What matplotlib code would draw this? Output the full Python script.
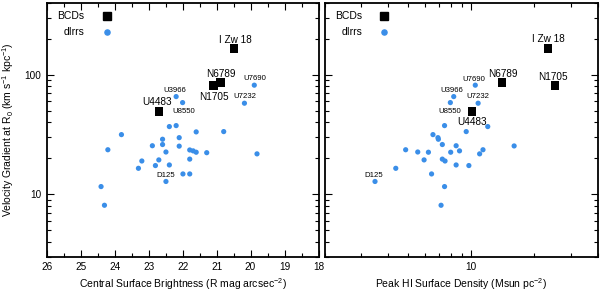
import matplotlib
matplotlib.use("Agg")
import matplotlib.pyplot as plt
from matplotlib.ticker import LogLocator, FixedLocator, NullFormatter, FixedFormatter, MultipleLocator
from matplotlib.lines import Line2D

plt.rcParams['font.family'] = ['Liberation Sans', 'DejaVu Sans']
plt.rcParams['mathtext.fontset'] = 'custom'
plt.rcParams['mathtext.rm'] = 'Liberation Sans'
plt.rcParams['mathtext.it'] = 'Liberation Sans:italic'
plt.rcParams['mathtext.bf'] = 'Liberation Sans:bold'

# ---- data ----
bcd_names = ['U4483', 'N1705', 'N6789', 'I Zw 18']
bcd_grad = [49.3, 81.3, 86.2, 166.0]
bcd_mag = [22.70, 21.09, 20.88, 20.48]
bcd_sigma = [10.07, 25.1, 14.0, 23.2]

lab_names = ['U3966', 'U8550', 'U7690', 'U7232', 'D125']
lab_grad = [65.8, 58.6, 82.0, 57.9, 12.8]
lab_mag = [22.19, 22.00, 19.89, 20.18, 22.49]
lab_sigma = [8.25, 7.95, 10.45, 10.78, 3.48]

dirr_mag = [22.39, 22.19, 23.80, 21.60, 20.79, 22.59, 22.10, 22.89, 22.59, 22.10,
            24.20, 22.49, 21.79, 21.69, 21.60, 21.29, 23.20, 22.70, 21.79, 23.30,
            22.80, 22.39, 21.99, 21.79, 24.40, 24.30, 19.81]
dirr_mag_grad = [36.9, 37.6, 31.6, 33.3, 33.5, 28.9, 29.8, 25.5, 26.1, 25.3,
                 23.6, 22.6, 23.5, 23.1, 22.5, 22.3, 19.0, 19.4, 19.7, 16.5,
                 17.4, 17.6, 14.8, 14.8, 11.6, 8.09, 21.8]

dirr_sigma = [11.98, 9.46, 7.46, 6.57, 6.94, 6.97, 7.28, 8.47, 8.79, 7.98,
              6.25, 5.56, 4.87, 5.96, 7.28, 7.50, 11.37, 10.96, 8.47, 9.74,
              4.37, 6.47, 7.46, 7.18, 16.0]
dirr_sigma_grad = [36.9, 33.5, 37.6, 31.6, 29.8, 28.9, 26.1, 25.5, 23.1, 22.5,
                   22.5, 22.6, 23.6, 19.4, 19.7, 19.0, 23.6, 21.8, 17.6, 17.4,
                   16.5, 14.8, 11.6, 8.09, 25.4]

# label offsets in points (dx, dy)
bcd_off_left = [(-1.2, 7.4), (0, -7.2), (0.4, 6.8), (0.7, 7.2)]
lab_off_left = [(-1.0, 4.8), (0.7, -6.0), (0.7, 5.5), (0.2, 5.3), (-0.3, 5.0)]
bcd_off_right = [(0.4, -7.0), (-1.9, 7.0), (0.4, 6.8), (0.4, 7.9)]
lab_off_right = [(-1.3, 4.8), (-0.7, -5.8), (-1.2, 4.5), (0, 5.3), (-1.2, 5.0)]

BLUE = '#3a8ee8'
W, H = 600, 292
fig = plt.figure(figsize=(6.0, 2.92), dpi=100)

axL = fig.add_axes([46.7 / W, 1 - 256.7 / H, (318.5 - 46.7) / W, (256.7 - 3) / H])
axR = fig.add_axes([324.5 / W, 1 - 256.7 / H, (597.7 - 324.5) / W, (256.7 - 3) / H])

sq_s = 36
dot_s = 14
big_fs = 7.2
small_fs = 5.6

def style(ax):
    for sp in ax.spines.values():
        sp.set_linewidth(1.3)
    ax.tick_params(which='both', direction='in', top=True, right=True, width=0.8,
                   labelsize=7.2, pad=4)
    ax.tick_params(which='major', length=5)
    ax.tick_params(which='minor', length=3)
    ax.set_yscale('log')
    ax.set_ylim(3, 400)
    ax.yaxis.set_major_locator(FixedLocator([10, 100]))
    ax.yaxis.set_minor_locator(LogLocator(base=10, subs=range(2, 10)))
    ax.yaxis.set_minor_formatter(NullFormatter())

# Left panel
style(axL)
axL.scatter(dirr_mag, dirr_mag_grad, s=dot_s, color=BLUE, edgecolors='none', zorder=3)
axL.scatter(lab_mag, lab_grad, s=dot_s, color=BLUE, edgecolors='none', zorder=3)
axL.scatter(bcd_mag, bcd_grad, s=sq_s, marker='s', color='black', edgecolors='none', zorder=4)
axL.set_xlim(26, 18)
axL.xaxis.set_major_locator(MultipleLocator(1))
axL.xaxis.set_minor_locator(MultipleLocator(0.5))
axL.yaxis.set_major_formatter(FixedFormatter(['10', '100']))
for n, x, y, o in zip(bcd_names, bcd_mag, bcd_grad, bcd_off_left):
    axL.annotate(n, (x, y), xytext=o, textcoords='offset points', ha='center',
                 va='center_baseline', fontsize=big_fs)
for n, x, y, o in zip(lab_names, lab_mag, lab_grad, lab_off_left):
    axL.annotate(n, (x, y), xytext=o, textcoords='offset points', ha='center',
                 va='center_baseline', fontsize=small_fs)
axL.set_xlabel('Central Surface Brightness (R mag arcsec$^{-2}$)', fontsize=7.5, labelpad=3)
axL.set_ylabel('Velocity Gradient at R$_0$ (km s$^{-1}$ kpc$^{-1}$)', fontsize=7.5, labelpad=6)

# Right panel
style(axR)
axR.scatter(dirr_sigma, dirr_sigma_grad, s=dot_s, color=BLUE, edgecolors='none', zorder=3)
axR.scatter(lab_sigma, lab_grad, s=dot_s, color=BLUE, edgecolors='none', zorder=3)
axR.scatter(bcd_sigma, bcd_grad, s=sq_s, marker='s', color='black', edgecolors='none', zorder=4)
axR.set_xscale('log')
axR.set_xlim(2, 40)
axR.xaxis.set_major_locator(FixedLocator([10]))
axR.xaxis.set_major_formatter(FixedFormatter(['10']))
axR.xaxis.set_minor_locator(LogLocator(base=10, subs=range(2, 10)))
axR.xaxis.set_minor_formatter(NullFormatter())
axR.yaxis.set_major_formatter(NullFormatter())
for n, x, y, o in zip(bcd_names, bcd_sigma, bcd_grad, bcd_off_right):
    axR.annotate(n, (x, y), xytext=o, textcoords='offset points', ha='center',
                 va='center_baseline', fontsize=big_fs)
for n, x, y, o in zip(lab_names, lab_sigma, lab_grad, lab_off_right):
    axR.annotate(n, (x, y), xytext=o, textcoords='offset points', ha='center',
                 va='center_baseline', fontsize=small_fs)
axR.set_xlabel('Peak HI Surface Density (Msun pc$^{-2}$)', fontsize=7.5, labelpad=3)

# Legends
handles = [Line2D([], [], marker='s', color='black', linestyle='none', markersize=6),
           Line2D([], [], marker='o', color=BLUE, linestyle='none', markersize=3.7)]
for ax, xr in ((axL, 0.247), (axR, 0.245)):
    ax.legend(handles, ['BCDs', 'dIrrs'], loc='upper right', bbox_to_anchor=(xr, 0.975),
              markerfirst=False, frameon=False, fontsize=7.5, handlelength=1.0,
              handletextpad=1.6, labelspacing=0.55, borderpad=0.2, borderaxespad=0)

fig.savefig('out.png', dpi=100)
